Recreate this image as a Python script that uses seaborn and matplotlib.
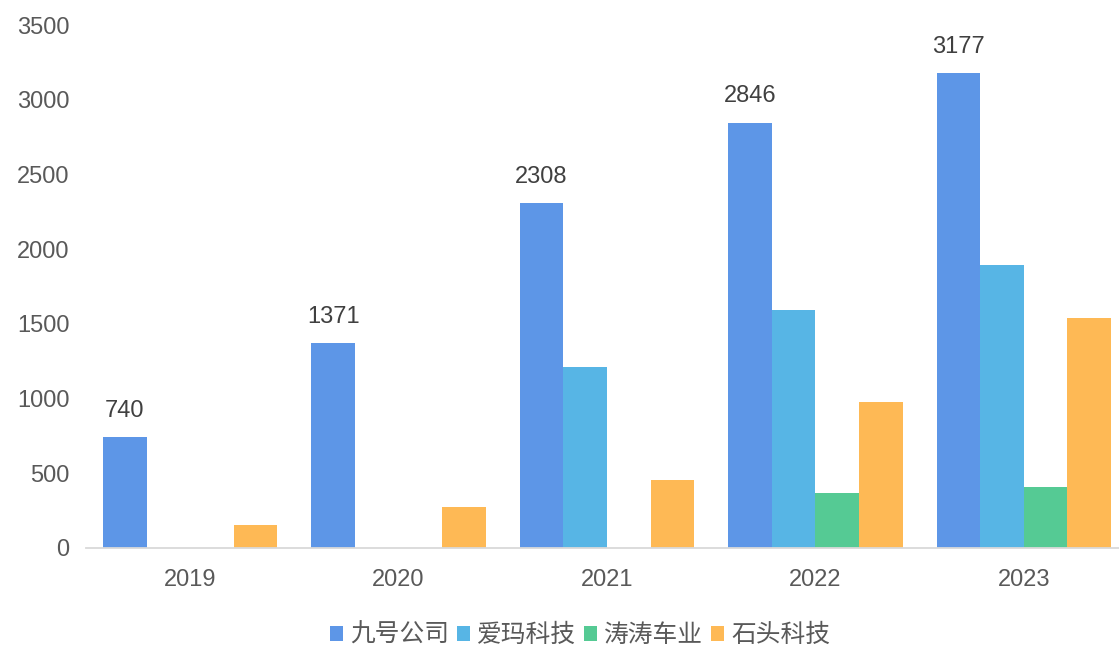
import matplotlib
matplotlib.use("Agg")
import matplotlib.pyplot as plt
import seaborn as sns
import pandas as pd
from matplotlib.patches import Patch

years = ["2019", "2020", "2021", "2022", "2023"]
companies = ["九号公司", "爱玛科技", "涛涛车业", "石头科技"]
ninebot = [740, 1371, 2308, 2846, 3177]
aima = [0, 0, 1212, 1595, 1895]
taotao = [0, 0, 0, 368, 410]
roborock = [155, 275, 457, 978, 1540]
colors = ["#5D96E7", "#57B5E5", "#55CA94", "#FEB955"]
yticks = [0, 500, 1000, 1500, 2000, 2500, 3000, 3500]

series = [ninebot, aima, taotao, roborock]
rows = []
for comp, vals in zip(companies, series):
    for y, v in zip(years, vals):
        rows.append({"year": y, "company": comp, "value": v})
df = pd.DataFrame(rows)

sns.set_theme(style="white")
plt.rcParams["font.family"] = ["Liberation Sans", "Noto Sans CJK SC", "DejaVu Sans"]

fig = plt.figure(figsize=(11.19, 6.47), dpi=100)
ax = fig.add_axes([86 / 1119, 99 / 647, 1042 / 1119, 523 / 647])

sns.barplot(data=df, x="year", y="value", hue="company", order=years,
            hue_order=companies, palette=colors, width=0.837, ax=ax,
            linewidth=0, saturation=1, legend=False, errorbar=None)

ax.set_xlim(-0.5, 4.5)
ax.set_ylim(0, 3500)
ax.set_yticks(yticks)
ax.set_yticklabels([str(t) for t in yticks])
ax.set_xlabel("")
ax.set_ylabel("")
for s in ["top", "right", "left"]:
    ax.spines[s].set_visible(False)
ax.spines["bottom"].set_color("#d9d9d9")
ax.spines["bottom"].set_linewidth(1.3)
ax.tick_params(axis="y", length=0, pad=12, labelsize=17, labelcolor="#595959")
ax.tick_params(axis="x", length=0, pad=15, labelsize=17, labelcolor="#595959")

# data labels for 九号公司
first = ax.containers[0]
ax.bar_label(first, labels=[str(v) for v in ninebot], padding=11,
             fontsize=17, color="#404040")

handles = [Patch(facecolor=c, edgecolor="none") for c in colors]
leg = fig.legend(handles, companies, loc="center", ncol=4,
                 bbox_to_anchor=(580 / 1119, 1 - 635 / 647), frameon=False,
                 fontsize=17.8, handlelength=0.53, handleheight=0.53,
                 handletextpad=0.3, columnspacing=0.3, borderpad=0)
for t in leg.get_texts():
    t.set_color("#595959")
    t.set_fontfamily(["Noto Sans CJK SC", "DejaVu Sans"])

fig.savefig("out.png", dpi=100)
